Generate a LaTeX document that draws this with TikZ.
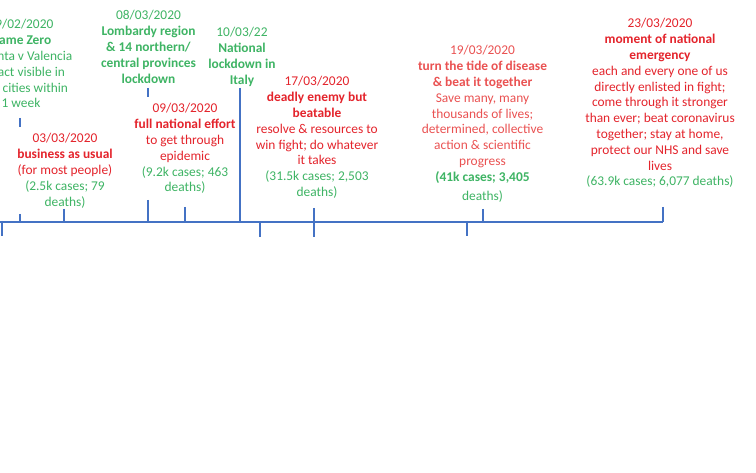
\documentclass[tikz,border=0pt]{standalone}
\usepackage{fontspec}
\setmainfont{Carlito}
\definecolor{tred}{RGB}{228,36,44}
\definecolor{tlred}{RGB}{234,82,82}
\definecolor{tgreen}{RGB}{62,180,100}
\definecolor{tblue}{RGB}{68,114,196}
\begin{document}
\begin{tikzpicture}[x=1pt,y=-1pt,
  blk/.style={anchor=north,inner sep=0pt,align=center,font=\fontsize{13.4}{15.8}\selectfont},
  axis/.style={draw=tblue,line width=1.5pt},
  tick/.style={draw=tblue,line width=1.4pt}]
\useasboundingbox (0,0) rectangle (756,473);
\fill[white] (0,0) rectangle (756,473);
% text blocks
\node[blk,text=tgreen] (b1) at (21,19.3) {19/02/2020\\\textbf{Game Zero}\\Atalanta v Valencia\\impact visible in\\both cities within\\1 week};
\node[blk] (b2) at (65,133.3) {\textcolor{tred}{03/03/2020}\\\textcolor{tred}{\textbf{business as usual}}\\\textcolor{tred}{(for most people)}\\\textcolor{tgreen}{(2.5k cases; 79}\\\textcolor{tgreen}{deaths)}};
\node[blk,text=tgreen] (b3) at (148.5,10.3) {08/03/2020\\\textbf{Lombardy region}\\\textbf{\& 14 northern/}\\\textbf{central provinces}\\\textbf{lockdown}};
\node[blk,text=tgreen] (b4) at (242,27.3) {10/03/22\\\textbf{National}\\\textbf{lockdown in}\\\textbf{Italy}};
\node[blk] (b5) at (185,103.3) {\textcolor{tred}{09/03/2020}\\\textcolor{tred}{\textbf{full national effort}}\\\textcolor{tred}{to get through}\\\textcolor{tred}{epidemic}\\\textcolor{tgreen}{(9.2k cases; 463}\\\textcolor{tgreen}{deaths)}};
\node[blk] (b6) at (317,76.3) {\textcolor{tred}{17/03/2020}\\\textcolor{tred}{\textbf{deadly enemy but}}\\\textcolor{tred}{\textbf{beatable}}\\\textcolor{tred}{resolve \& resources to}\\\textcolor{tred}{win fight; do whatever}\\\textcolor{tred}{it takes}\\\textcolor{tgreen}{(31.5k cases; 2,503}\\\textcolor{tgreen}{deaths)}};
\node[blk] (b7) at (482.5,45.3) {\textcolor{tlred}{19/03/2020}\\\textcolor{tlred}{\textbf{turn the tide of disease}}\\\textcolor{tlred}{\textbf{\& beat it together}}\\\textcolor{tlred}{Save many, many}\\\textcolor{tlred}{thousands of lives;}\\\textcolor{tlred}{determined, collective}\\\textcolor{tlred}{action \& scientific}\\\textcolor{tlred}{progress}\\\textcolor{tgreen}{\textbf{(41k cases; 3,405}}\\[3pt]\textcolor{tgreen}{deaths)}};
\node[blk] (b8) at (660,18.3) {\textcolor{tred}{23/03/2020}\\\textcolor{tred}{\textbf{moment of national}}\\\textcolor{tred}{\textbf{emergency}}\\\textcolor{tred}{each and every one of us}\\\textcolor{tred}{directly enlisted in fight;}\\\textcolor{tred}{come through it stronger}\\\textcolor{tred}{than ever; beat coronavirus}\\\textcolor{tred}{together; stay at home,}\\\textcolor{tred}{protect our NHS and save}\\\textcolor{tred}{lives}\\\textcolor{tgreen}{(63.9k cases; 6,077 deaths)}};
% axis
\coordinate (a0) at (0,222);
\coordinate (a1) at (663,222);
\draw[axis] (a0) -- (a1);
% ticks
\foreach \x/\ya/\yb in {2/221/236, 20/214/222, 64/209/222, 148/200/222, 185/207/222,
  240/88/222, 260/222/237, 314/208/237, 467/221/236, 483/209/222, 663/207/222,
  20/118/127, 148/88/97}{
  \coordinate (t1) at (\x,\ya);
  \coordinate (t2) at (\x,\yb);
  \draw[tick] (t1) -- (t2);
}
\end{tikzpicture}
\end{document}
